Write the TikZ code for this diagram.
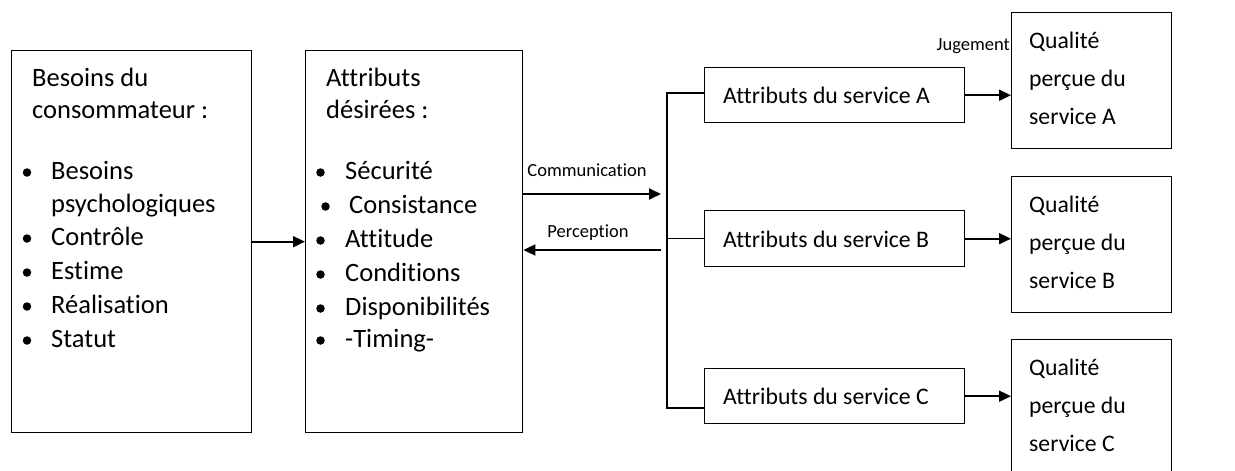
\documentclass[tikz,border=0pt]{standalone}
\usepackage{fontspec}
\setmainfont{Carlito}[Ligatures=NoCommon]
\usetikzlibrary{arrows.meta}
\begin{document}
\begin{tikzpicture}[x=1pt,y=-1pt,
  box/.style={draw, line width=1.4pt, inner sep=0pt, anchor=north west},
  txt/.style={anchor=base west, inner sep=0pt, font=\fontsize{26.5}{30}\selectfont},
  stxt/.style={anchor=base west, inner sep=0pt, font=\fontsize{23.7}{28}\selectfont},
  blt/.style={circle, fill, inner sep=0pt, minimum size=8.5pt},
  lbl/.style={anchor=base, inner sep=0pt, font=\fontsize{18.5}{22}\selectfont},
  conn/.style={line width=1.8pt, -{Triangle[length=12pt,width=11pt]}},
  link/.style={line width=1.4pt}]
\useasboundingbox (0,0) rectangle (1235,471);

% consumer needs
\node[box, minimum width=240pt, minimum height=382pt] (needs) at (11,50) {};
\node[txt] (nh1) at (32,86) {Besoins du};
\node[txt] (nh2) at (32,118) {consommateur :};
\foreach \y/\t [count=\i] in {179/Besoins, 212/psychologiques, 245/Contrôle, 279/Estime, 313/Réalisation, 347/Statut}
  \node[txt] (ni\i) at (51,\y) {\t};
\foreach \y [count=\i] in {179,245,279,313,347}
  \node[blt] (nb\i) at (27,\y-6.5) {};

% desired attributes
\node[box, minimum width=217pt, minimum height=382pt] (desired) at (305,50) {};
\node[txt] (dh1) at (326,86) {Attributs};
\node[txt] (dh2) at (326,118) {désirées :};
\foreach \x/\y/\t [count=\i] in {345/179/Sécurité, 349/213/Consistance, 345/247/Attitude, 345/281/Conditions, 345/315/Disponibilités, 345/347/-Timing-}
  \node[txt] (di\i) at (\x,\y) {\t};
\foreach \x/\y [count=\i] in {320.5/179, 325.5/213, 320.5/247, 320.5/281, 320.5/315, 320.5/347}
  \node[blt] (db\i) at (\x,\y-6.5) {};

% service attributes
\node[box, minimum width=260pt, minimum height=55pt] (svcA) at (704,67) {};
\node[box, minimum width=260pt, minimum height=56pt] (svcB) at (704,210) {};
\node[box, minimum width=260pt, minimum height=55pt] (svcC) at (704,368) {};
\node[stxt] (svcAt) at (723,103) {Attributs du service A};
\node[stxt] (svcBt) at (723,247) {Attributs du service B};
\node[stxt] (svcCt) at (723,404) {Attributs du service C};

% perceived quality
\node[box, minimum width=160pt, minimum height=136pt] (qualA) at (1011,12) {};
\node[box, minimum width=160pt, minimum height=136pt] (qualB) at (1011,176) {};
\node[box, minimum width=160pt, minimum height=136pt] (qualC) at (1011,339) {};
\foreach \n/\top/\s in {qA/12/A, qB/176/B, qC/339/C} {
  \node[stxt] (\n1) at (1029,\top+36) {Qualité};
  \node[stxt] (\n2) at (1029,\top+74) {perçue du};
  \node[stxt] (\n3) at (1029,\top+112) {service \s};
}

% connectors
\draw[conn] (needs.east) -- (desired.west);
\coordinate (commEnd) at (661,194);
\coordinate (percStart) at (661,250);
\draw[conn] (desired.east |- commEnd) -- (commEnd);
\draw[conn] (percStart) -- (desired.east |- percStart);
\node[lbl] (comm) at (587,176) {Communication};
\node[lbl] (perc) at (588,237) {Perception};

\coordinate (brTop) at (667,93);
\coordinate (brBot) at (667,408);
\draw[link] (svcA.west |- brTop) -- (brTop) -- (brBot) -- (svcC.west |- brBot);
\draw[link] (brTop |- svcB.west) -- (svcB.west);

\draw[conn] (svcA.east) -- (qualA.west |- svcA.east);
\draw[conn] (svcB.east) -- (qualB.west |- svcB.east);
\draw[conn] (svcC.east) -- (qualC.west |- svcC.east);
\node[lbl, anchor=base east] (jug) at (1010,50) {Jugement};
\end{tikzpicture}
\end{document}
